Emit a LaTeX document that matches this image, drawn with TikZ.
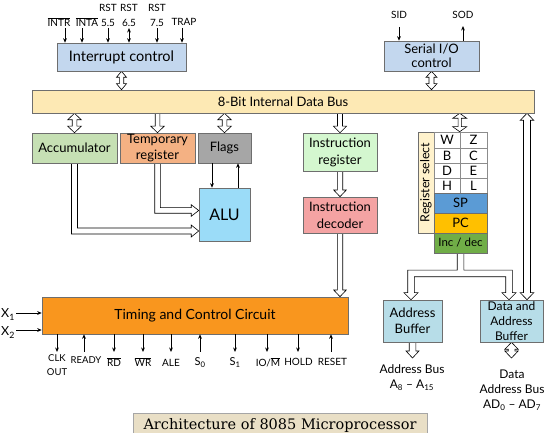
\documentclass[tikz,border=0pt]{standalone}
\usepackage{fontspec}
\setmainfont{Lato}
\newfontfamily\titlefont{DejaVu Serif}
\usetikzlibrary{arrows.meta,calc}
\pgfdeclarelayer{bg}
\pgfsetlayers{bg,main}
\definecolor{icblue}{HTML}{C3D7EE}
\definecolor{busyel}{HTML}{FDE9B4}
\definecolor{rselyel}{HTML}{FFF2CC}
\definecolor{accgrn}{HTML}{C6E0B4}
\definecolor{tmporg}{HTML}{F4B183}
\definecolor{flggry}{HTML}{A6A6A6}
\definecolor{alublu}{HTML}{9BDCF8}
\definecolor{irgrn}{HTML}{D4F7CF}
\definecolor{idpink}{HTML}{F4A3A3}
\definecolor{spblu}{HTML}{5B9BD5}
\definecolor{pcgold}{HTML}{FFC000}
\definecolor{incgrn}{HTML}{70AD47}
\definecolor{tccorg}{HTML}{F9961E}
\definecolor{bufblu}{HTML}{B7DDE8}
\definecolor{ttlbg}{HTML}{E9DFC6}
\definecolor{brd}{HTML}{6E6E6E}
% hollow arrows drawn as outlines: [half head width][head length][half shaft width]
% single, downwards: from #4 to tip #5
\NewDocumentCommand\hvs{O{7} O{6.5} O{2.4} m m}{%
  \draw[hd] let \p1=(#4), \p2=(#5) in
  (\x1-#3pt,\y1) -- (\x1-#3pt,\y2+#2pt) -- (\x1-#1pt,\y2+#2pt) -- (\x1,\y2)
  -- (\x1+#1pt,\y2+#2pt) -- (\x1+#3pt,\y2+#2pt) -- (\x1+#3pt,\y1);}
% double, vertical: tips at #4 (top) and #5 (bottom)
\NewDocumentCommand\hvd{O{7} O{6.5} O{2.4} m m}{%
  \draw[hd] let \p1=(#4), \p2=(#5) in
  (\x1,\y1) -- (\x1+#1pt,\y1-#2pt) -- (\x1+#3pt,\y1-#2pt) -- (\x1+#3pt,\y2+#2pt)
  -- (\x1+#1pt,\y2+#2pt) -- (\x1,\y2) -- (\x1-#1pt,\y2+#2pt) -- (\x1-#3pt,\y2+#2pt)
  -- (\x1-#3pt,\y1-#2pt) -- (\x1-#1pt,\y1-#2pt) -- cycle;}
% bent: down from #4, then right to tip #5
\NewDocumentCommand\hdr{O{6} O{7} O{2.8} m m}{%
  \draw[hd] let \p1=(#4), \p2=(#5) in
  (\x1-#3pt,\y1) -- (\x1-#3pt,\y2-#3pt) -- (\x2-#2pt,\y2-#3pt) -- (\x2-#2pt,\y2-#1pt)
  -- (\x2,\y2) -- (\x2-#2pt,\y2+#1pt) -- (\x2-#2pt,\y2+#3pt) -- (\x1+#3pt,\y2+#3pt) -- (\x1+#3pt,\y1);}
\begin{document}
\begin{tikzpicture}[x=1pt,y=-1pt,
  box/.style={draw=brd, line width=0.6pt, inner sep=0pt, align=center, font=\fontsize{13}{15}\selectfont},
  cell/.style={box, fill=white, draw=black!45},
  hd/.style={fill=white, draw=black, line width=0.6pt, line join=miter},
  sig/.style={line width=0.8pt, -{Stealth[length=4.5pt,width=3.8pt]}},
  sigb/.style={line width=0.8pt, {Stealth[length=4.5pt,width=3.8pt]}-{Stealth[length=4.5pt,width=3.8pt]}},
  lbl/.style={inner sep=0pt, align=center, font=\fontsize{10}{15}\selectfont},
  slbl/.style={inner sep=0pt, align=center, font=\fontsize{11}{13}\selectfont},
  blbl/.style={inner sep=0pt, align=center, font=\fontsize{12}{15}\selectfont}]
\useasboundingbox (0,0) rectangle (550,433);

% ---------- boxes ----------
\node[box, fill=icblue, minimum width=129pt, minimum height=28pt, font=\fontsize{14.5}{15}\selectfont] (intc) at (121.5,57) {Interrupt control};
\node[box, fill=icblue, minimum width=95pt, minimum height=30pt, font=\fontsize{13}{14}\selectfont] (sio) at (431.5,56) {Serial I/O\\control};
\node[box, fill=busyel, minimum width=502pt, minimum height=23pt] (bus) at (283,101.5) {8-Bit Internal Data Bus};
\node[box, fill=accgrn, minimum width=85pt, minimum height=30pt] (acc) at (74.5,148) {Accumulator};
\node[box, fill=tmporg, minimum width=75pt, minimum height=30pt, font=\fontsize{13}{16}\selectfont] (tmp) at (157.5,148) {Temporary\\register};
\node[box, fill=flggry, minimum width=53pt, minimum height=30pt] (flg) at (224.5,148) {Flags};
\node[box, fill=alublu, minimum width=51pt, minimum height=53pt, font=\fontsize{16}{18}\selectfont] (alu) at (224.5,214.5) {ALU};
\node[box, fill=irgrn, minimum width=74pt, minimum height=38pt, font=\fontsize{13}{17}\selectfont] (ir) at (340,152) {Instruction\\register};
\node[box, fill=idpink, minimum width=74pt, minimum height=36pt, font=\fontsize{13}{17}\selectfont] (idc) at (340,215) {Instruction\\decoder};
\node[box, fill=rselyel, minimum width=16pt, minimum height=101pt] (rsel) at (426,182.5) {};
\node[rotate=90, inner sep=0pt, font=\fontsize{12.5}{15}\selectfont] (rseltxt) at (rsel.center) {Register select};
\node[cell, minimum width=26pt, minimum height=16pt] (rw) at (447,140) {W};
\node[cell, minimum width=27pt, minimum height=16pt] (rz) at (473.5,140) {Z};
\node[cell, minimum width=26pt, minimum height=15pt] (rb) at (447,155.5) {B};
\node[cell, minimum width=27pt, minimum height=15pt] (rc) at (473.5,155.5) {C};
\node[cell, minimum width=26pt, minimum height=15pt] (rd) at (447,170.5) {D};
\node[cell, minimum width=27pt, minimum height=15pt] (re) at (473.5,170.5) {E};
\node[cell, minimum width=26pt, minimum height=15pt] (rh) at (447,185.5) {H};
\node[cell, minimum width=27pt, minimum height=15pt] (rl) at (473.5,185.5) {L};
\node[box, fill=spblu, minimum width=53pt, minimum height=20pt] (sp) at (460.5,203) {SP};
\node[box, fill=pcgold, minimum width=53pt, minimum height=20pt] (pc) at (460.5,223) {PC};
\node[box, fill=incgrn, minimum width=53pt, minimum height=20pt, font=\fontsize{11.5}{13}\selectfont] (inc) at (460.5,243) {Inc / dec};
\node[box, fill=tccorg, minimum width=306pt, minimum height=37pt, font=\fontsize{14}{16}\selectfont] (tcc) at (195,315.5) {Timing and Control Circuit};
\node[box, fill=bufblu, minimum width=59pt, minimum height=42pt, font=\fontsize{13}{16}\selectfont] (ab) at (412.5,321) {Address\\Buffer};
\node[box, fill=bufblu, minimum width=63pt, minimum height=42pt, font=\fontsize{12}{15}\selectfont] (dab) at (511.5,321) {Data and\\Address\\Buffer};
\node[fill=ttlbg, draw=black!35, line width=0.6pt, inner sep=0pt, minimum width=294pt, minimum height=27pt] (title) at (280,426.5) {};
\node[anchor=base, inner sep=0pt, font=\titlefont\fontsize{14.5}{16}\selectfont] (ttltxt) at (280,430) {Architecture of 8085 Microprocessor};

% ---------- top signal labels ----------
\node[lbl, anchor=base] (lintr) at (59,27) {$\overline{\mbox{INTR}}$};
\node[lbl, anchor=base] (linta) at (87,27) {$\overline{\mbox{INTA}}$};
\node[lbl] (lr55) at (108,15) {RST\\5.5};
\node[lbl] (lr65) at (129,15) {RST\\6.5};
\node[lbl] (lr75) at (157,15) {RST\\7.5};
\node[lbl, anchor=base] (ltrap) at (184,26) {TRAP};
\node[lbl, anchor=base] (lsid) at (399,19) {SID};
\node[lbl, anchor=base] (lsod) at (463,19) {SOD};

\coordinate (cintr) at (65,28);
\coordinate (cinta) at (82,28);
\coordinate (cr55) at (108,28);
\coordinate (cr65) at (129,28);
\coordinate (cr75) at (157,28);
\coordinate (ctrap) at (182,28);
\coordinate (csid) at (399,27);
\coordinate (csod) at (463,26);
\draw[sig] (cintr) -- (cintr |- intc.north);
\draw[sig] (cinta) -- (cinta |- intc.north);
\draw[sig] (cr55) -- (cr55 |- intc.north);
\draw[sigb] (cr65) -- (cr65 |- intc.north);
\draw[sig] (cr75) -- (cr75 |- intc.north);
\draw[sig] (ctrap) -- (ctrap |- intc.north);
\draw[sig] (csid) -- (csid |- sio.north);
\draw[sig] (csod |- sio.north) -- (csod);

% ---------- hollow arrows (behind the boxes) ----------
\coordinate (a1) at (intc.south |- bus.north);
\coordinate (a2) at (sio.south |- bus.north);
\coordinate (a3) at (acc.north |- bus.south);
\coordinate (a4) at (tmp.north |- bus.south);
\coordinate (a5) at (flg.north |- bus.south);
\coordinate (a6) at (ir.north |- bus.south);
\coordinate (a7) at (idc.south |- tcc.north);
\coordinate (a8) at (rz.north west |- bus.south);
\coordinate (rx) at (527,0);
\coordinate (a9t) at (rx |- bus.south);
\coordinate (a9b) at (rx |- dab.north);
\coordinate (ty) at (0,210.5);
\coordinate (te) at (ty -| alu.west);
\coordinate (ay) at (0,231);
\coordinate (ae) at (ay -| alu.west);
\coordinate (jy) at (0,273.5);
\coordinate (jlx) at (411,0);
\coordinate (jrx) at (509,0);
\coordinate (jl) at (jlx |- ab.north);
\coordinate (jr) at (jrx |- dab.north);
\coordinate (by) at (0,358);
\coordinate (abo) at (ab.south |- by);
\coordinate (dabo) at (dab.south |- by);
\begin{pgfonlayer}{bg}
\hvd[5][6][2.2]{intc.south}{a1}
\hvd[5.5][6][2.5]{sio.south}{a2}
\hvd[6.8][6.5][2.3]{a3}{acc.north}
\hvs[6.7][6.5][2.3]{a4}{tmp.north}
\hvd[6.8][6.5][2.3]{a5}{flg.north}
\hvs[6.5][6.5][2.5]{a6}{ir.north}
\hvs[6.3][6.7][2.7]{ir.south}{idc.north}
\hvs[6.3][6.7][2.7]{idc.south}{a7}
\hvd[7][5][1.6]{a8}{rz.north west}
\hvd[6.8][7][3.5]{a9t}{a9b}
\hdr[5.8][7.5][2.8]{tmp.south}{te}
\hdr[6][7.5][3]{acc.south}{ae}
% inc/dec -> both buffers (T shaped)
\draw[hd] let \p1=(inc.south), \p2=(jy), \p3=(jl), \p4=(jr) in
  (\x1-3.3pt,\y1) -- (\x1-3.3pt,\y2+3.3pt) -- (\x3-3.3pt,\y2+3.3pt) -- (\x3-3.3pt,\y3+7pt)
  -- (\x3-7pt,\y3+7pt) -- (\x3,\y3) -- (\x3+7pt,\y3+7pt) -- (\x3+3.3pt,\y3+7pt)
  -- (\x3+3.3pt,\y2-3.3pt) -- (\x4-3.3pt,\y2-3.3pt) -- (\x4-3.3pt,\y4+7pt)
  -- (\x4-7pt,\y4+7pt) -- (\x4,\y4) -- (\x4+7pt,\y4+7pt) -- (\x4+3.3pt,\y4+7pt)
  -- (\x4+3.3pt,\y2+3.3pt) -- (\x1+3.3pt,\y2+3.3pt) -- (\x1+3.3pt,\y1);
\hvs[6.5][7][3.3]{ab.south}{abo}
\hvd[6.7][7][3.3]{dab.south}{dabo}
\end{pgfonlayer}

% flags <-> ALU
\coordinate (fx1) at (212,0);
\coordinate (fx2) at (238,0);
\draw[sig] (fx1 |- flg.south) -- (fx1 |- alu.north);
\draw[sig] (fx2 |- alu.north) -- (fx2 |- flg.south);

% ---------- bus labels ----------
\node[blbl] (labus) at (412,378) {Address Bus\\A\textsubscript{8} -- A\textsubscript{15}};
\node[blbl] (ldbus) at (512,390) {Data\\Address Bus\\AD\textsubscript{0} -- AD\textsubscript{7}};

% ---------- clock inputs ----------
\node[inner sep=0pt, anchor=base, font=\fontsize{12.5}{14}\selectfont] (lx1) at (8,318) {X\textsubscript{1}};
\node[inner sep=0pt, anchor=base, font=\fontsize{12.5}{14}\selectfont] (lx2) at (8,336) {X\textsubscript{2}};
\coordinate (cx1) at (16,313);
\coordinate (cx2) at (16,330);
\draw[sig] (cx1) -- (cx1 -| tcc.west);
\draw[sig] (cx2) -- (cx2 -| tcc.west);

% ---------- bottom signals ----------
\coordinate (bclk) at (57,352);
\coordinate (brdy) at (84,352);
\coordinate (brd) at (114,352);
\coordinate (bwr) at (143,352);
\coordinate (bale) at (171,352);
\coordinate (bs0) at (200,352);
\coordinate (bs1) at (235,352);
\coordinate (bio) at (267,352);
\coordinate (bhold) at (298,352);
\coordinate (brst) at (331,352);
\draw[sig] (bclk |- tcc.south) -- (bclk);
\draw[sig] (brdy) -- (brdy |- tcc.south);
\draw[sig] (brd |- tcc.south) -- (brd);
\draw[sig] (bwr |- tcc.south) -- (bwr);
\draw[sig] (bale |- tcc.south) -- (bale);
\draw[sig] (bs0) -- (bs0 |- tcc.south);
\draw[sig] (bs1 |- tcc.south) -- (bs1);
\draw[sig] (bio |- tcc.south) -- (bio);
\draw[sig] (bhold |- tcc.south) -- (bhold);
\draw[sig] (brst) -- (brst |- tcc.south);

\node[lbl, font=\fontsize{9.5}{14}\selectfont] (lclk) at (57,365.5) {CLK\\OUT};
\node[lbl, anchor=base, font=\fontsize{9.5}{14}\selectfont] (lrdy) at (86,363) {READY};
\node[lbl, anchor=base] (lrd) at (114,367) {$\overline{\mbox{RD}}$};
\node[lbl, anchor=base] (lwr) at (143,367) {$\overline{\mbox{WR}}$};
\node[lbl, anchor=base] (lale) at (171,367) {ALE};
\node[slbl, anchor=base] (ls0) at (200,366) {S\textsubscript{0}};
\node[slbl, anchor=base] (ls1) at (235,366) {S\textsubscript{1}};
\node[lbl, anchor=base] (lio) at (268,367) {IO/$\overline{\mbox{M}}$};
\node[lbl, anchor=base] (lhold) at (298.5,366) {HOLD};
\node[lbl, anchor=base] (lrst) at (332.5,366) {RESET};
\end{tikzpicture}
\end{document}
